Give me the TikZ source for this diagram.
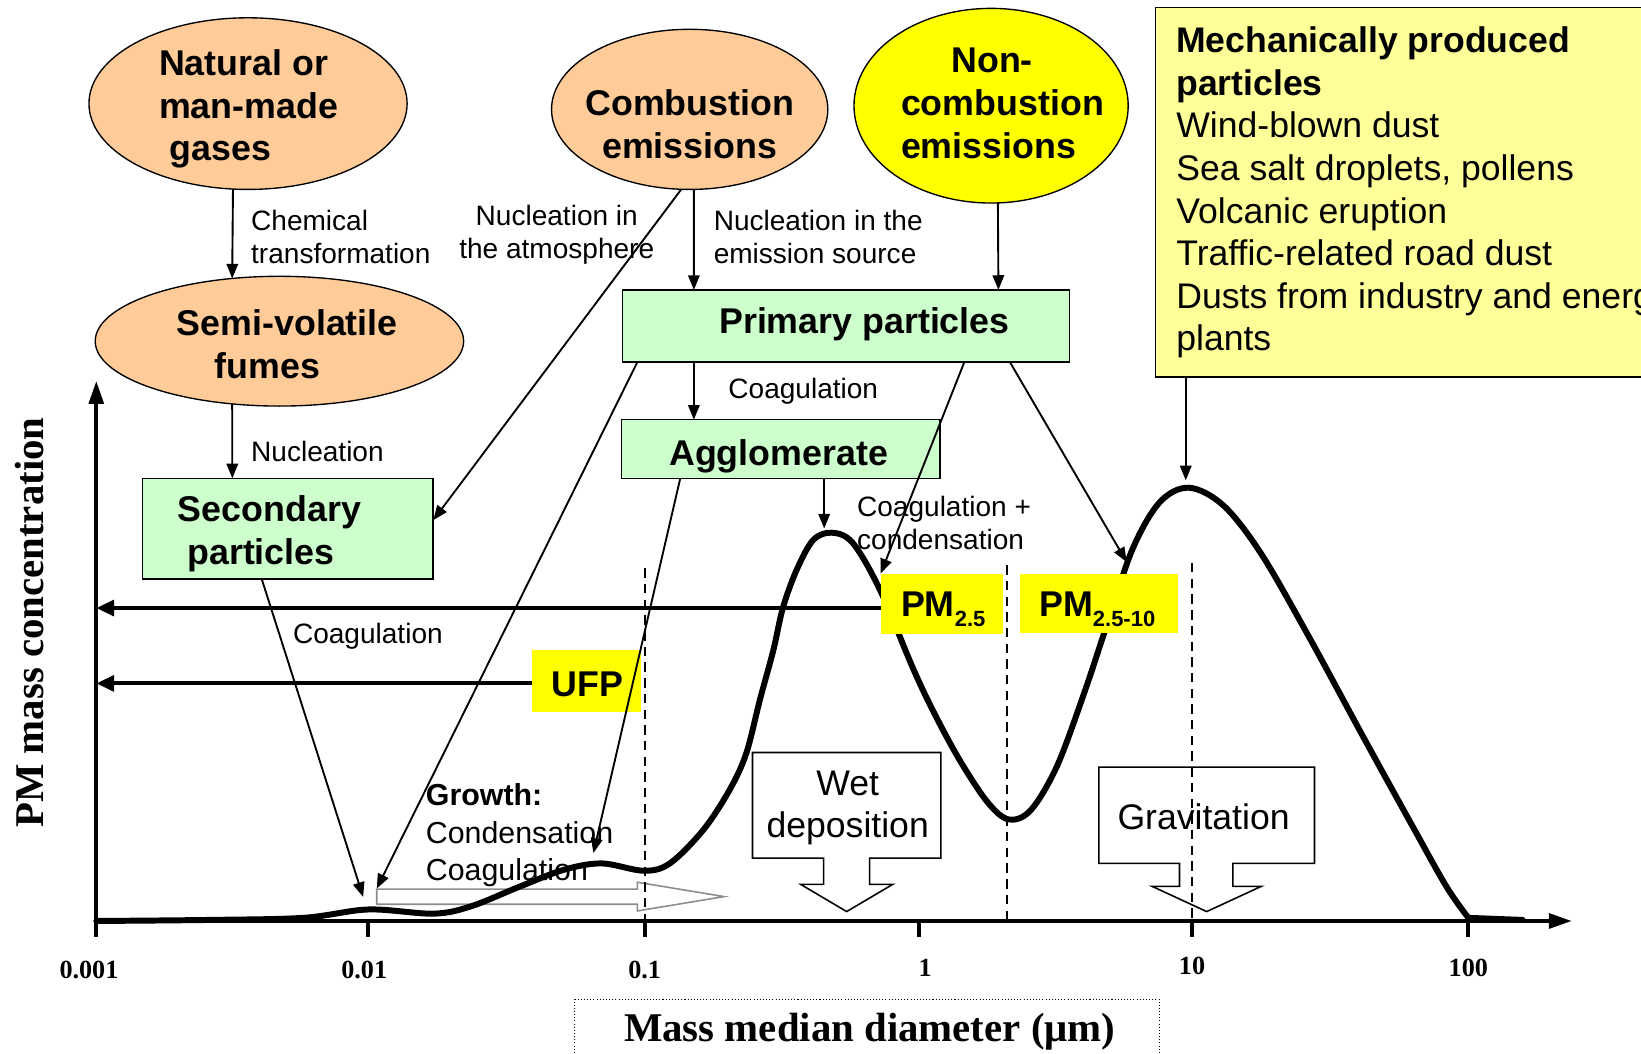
\documentclass[tikz,border=0pt]{standalone}
\usepackage{fontspec}
\setmainfont{Liberation Serif}
\setsansfont{Liberation Sans}
\usetikzlibrary{shapes.geometric,arrows.meta}
\definecolor{peachc}{RGB}{255,204,153}
\definecolor{greenc}{RGB}{204,255,204}
\definecolor{yelc}{RGB}{255,255,0}
\definecolor{lyelc}{RGB}{255,255,153}
\definecolor{grayc}{RGB}{140,140,140}
\newcommand\dgB{\sffamily\bfseries\fontsize{34.2}{41}\selectfont}
\newcommand\dgR{\sffamily\fontsize{34}{40.7}\selectfont}
\newcommand\dgS{\sffamily\fontsize{26.8}{31.5}\selectfont}
\newcommand\dgG{\sffamily\fontsize{29}{35.5}\selectfont}
\newcommand\dgAx{\rmfamily\bfseries\fontsize{39}{44}\selectfont}
\newcommand\dgTk{\rmfamily\bfseries\fontsize{25}{28}\selectfont}
\begin{document}
\begin{tikzpicture}[x=1pt,y=-1pt,
  ell/.style={ellipse, draw, line width=1.3pt, inner sep=0pt, outer sep=0pt},
  gbox/.style={rectangle, draw, line width=1.5pt, fill=greenc, inner sep=0pt, outer sep=0pt},
  ylab/.style={rectangle, fill=yelc, inner sep=0pt, outer sep=0pt, font=\dgB},
  txt/.style={inner sep=0pt, outer sep=0pt},
  conn/.style={line width=1.8pt, -{Triangle[length=14pt,width=11pt]}},
  harrow/.style={line width=3.8pt, -{Triangle[length=17pt,width=15pt]}},
  axisl/.style={line width=3.8pt, -{Triangle[length=22pt,width=14pt]}},
  dline/.style={line width=2pt, dash pattern=on 9pt off 6pt},
  callout/.style={line width=1.5pt, line join=miter},
]
\useasboundingbox (0,0) rectangle (1568,1007);
\clip (0,0) rectangle (1568,1007);

% ---------- ellipses ----------
\node[ell, fill=peachc, minimum width=304pt, minimum height=164pt] (nat) at (237,99) {};
\node[ell, fill=peachc, minimum width=264pt, minimum height=153pt] (comb) at (659,104.5) {};
\node[ell, fill=yelc, minimum width=262pt, minimum height=186pt] (ncomb) at (947,101) {};
\node[ell, fill=peachc, minimum width=352pt, minimum height=124pt] (semi) at (267,326) {};

\node[txt, font=\dgB, align=left, anchor=west] (natt) at (152,104) {Natural or\\man-made\\\hspace*{10pt}gases};
\node[txt, font=\dgB, align=center] (combt) at (659,119) {Combustion\\emissions};
\node[txt, font=\dgB, align=left, anchor=west] (ncombt) at (861,99) {\hspace*{48pt}Non-\\combustion\\emissions};
\node[txt, font=\dgB, align=left, anchor=west] (semit) at (169,329) {Semi-volatile\\\hspace*{36pt}fumes};

% ---------- green boxes ----------
\node[gbox, minimum width=427pt, minimum height=69pt] (prim) at (808.5,311.5) {};
\node[txt, font=\dgB] (primt) at (826,310) {Primary particles};
\node[gbox, minimum width=304pt, minimum height=56pt] (aggl) at (746,429) {};
\node[txt, font=\dgB] (agglt) at (744,436) {Agglomerate};
\node[gbox, minimum width=278pt, minimum height=96pt] (sec) at (275,505) {};
\node[txt, font=\dgB, align=left, anchor=west] (sect) at (170,510) {Secondary\\\hspace*{9pt}particles};

% ---------- mechanically produced box ----------
\node[draw, line width=1.5pt, fill=lyelc, inner sep=0pt, outer sep=0pt, minimum width=520pt, minimum height=353pt, anchor=north west] (mech) at (1104,7) {};
\node[txt, font=\dgR, align=left, anchor=west] (mecht) at (1124,184) {{\bfseries Mechanically produced}\\{\bfseries particles}\\Wind-blown dust\\Sea salt droplets, pollens\\Volcanic eruption\\Traffic-related road dust\\Dusts from industry and energy\\plants};

% ---------- axes ----------
\coordinate (orig) at (92,880);
\coordinate (ytop) at (92,364);
\coordinate (xend) at (1502,880);
\draw[axisl] (92,882) -- (ytop);
\draw[axisl] (90,880) -- (xend);
\foreach \xx in {92,352,616,878,1139,1403} \draw[line width=4pt] (\xx,880) -- (\xx,895);
\node[txt, font=\dgTk] (t1) at (85,927) {0.001};
\node[txt, font=\dgTk] (t2) at (348,927) {0.01};
\node[txt, font=\dgTk] (t3) at (616,927) {0.1};
\node[txt, font=\dgTk] (t4) at (884,925) {1};
\node[txt, font=\dgTk] (t5) at (1139,923) {10};
\node[txt, font=\dgTk] (t6) at (1403,925) {100};
\node[txt, font=\dgAx, rotate=90] (ylabel) at (28,595) {PM mass concentration};
\node[txt, font=\dgAx] (xlabel) at (831,986) {Mass median diameter (μm)};
\draw[line width=1pt, dotted] (549,1012) -- (549,955) -- (1108,955) -- (1108,1012);

% ---------- callouts ----------
\draw[callout] (719,719) -- (899,719) -- (899,820) -- (831,820) -- (831,845) -- (853,845) -- (809,871) -- (765,845) -- (787,845) -- (787,820) -- (719,820) -- cycle;
\node[txt, font=\dgR, align=center] (wett) at (810,772) {Wet\\deposition};
\draw[callout] (1050,733) -- (1256,733) -- (1256,825) -- (1178,825) -- (1178,847) -- (1205,847) -- (1153,871) -- (1101,847) -- (1127,847) -- (1127,825) -- (1050,825) -- cycle;
\node[txt, font=\dgR] (gravt) at (1150,780) {Gravitation};

% ---------- growth arrow ----------
\draw[grayc, line width=1.5pt] (360,849.5) -- (609,849.5) -- (609,843) -- (692,856.7) -- (609,870.4) -- (609,864) -- (360,864) -- cycle;

% ---------- dashed lines ----------
\draw[dline] (616,543) -- (616,880);
\draw[dline] (962,540) -- (962,880);
\draw[dline] (1139,538) -- (1139,880);

% ---------- curve ----------
\draw[line width=5.7pt, line join=round, line cap=round] plot[smooth, tension=0.55] coordinates {
(92,880) (200,879) (290,877) (352,869) (414,873) (450,866) (497,847) (539,831) (575,825) (615,832) (640,825) (672,793) (697,755) (713,720) (726,669) (739,621) (748,581) (761,545) (777,516) (795,509) (815,519) (841,564) (873,640) (894,684) (918,728) (944,767) (964,783) (985,774) (1010,732) (1036,662) (1057,599) (1082,525) (1108,480) (1136,466) (1169,483) (1205,529) (1251,609) (1302,703) (1350,790) (1382,847) (1403,877)} -- (1455,879);

% ---------- yellow labels ----------
\node[ylab, minimum width=104pt, minimum height=59pt] (ufp) at (560,650.5) {};
\node[txt, font=\dgB] (ufpt) at (561,654) {UFP};
\node[ylab, minimum width=117pt, minimum height=58pt] (pm25) at (900,577) {};
\node[txt, font=\dgB, anchor=base west] (pm25t) at (861,589) {PM\raisebox{-10pt}{\fontsize{21}{21}\selectfont 2.5}};
\node[ylab, minimum width=151pt, minimum height=57pt] (pm2510) at (1050,576.5) {};
\node[txt, font=\dgB, anchor=base west] (pm2510t) at (993,589) {PM\raisebox{-10pt}{\fontsize{21}{21}\selectfont 2.5-10}};

% ---------- horizontal arrows ----------
\draw[harrow] ([yshift=-4pt]pm25.west) coordinate (h1) -- (h1 -| orig);
\draw[harrow] ([yshift=-2.5pt]ufp.west) coordinate (h2) -- (h2 -| orig);

% ---------- free-end coordinates ----------
\coordinate (g0) at (347,857);
\coordinate (g1) at (360,849);
\coordinate (bump) at (567,815);
\coordinate (peak1) at (787.5,505);
\coordinate (pk2a) at (1076.5,537);
\coordinate (peak2) at (1133,459);

% ---------- connectors ----------
\draw[conn] (nat.260) -- (semi.127);
\draw[conn] (semi.233) -- ([xshift=-53pt]sec.north);
\draw[conn] (comb.264) -- ([yshift=8pt]sec.east);
\draw[conn] (comb.273) -- ([xshift=-145.5pt]prim.north);
\draw[conn] (ncomb.274) -- ([xshift=145.5pt]prim.north);
\draw[conn] ([xshift=-145.5pt]prim.south) -- ([xshift=-83pt]aggl.north);
\draw[conn] ([xshift=14pt]prim.south west) -- (g1);
\draw[conn] ([xshift=-25pt]sec.south) -- (g0);
\draw[conn] ([xshift=56pt]aggl.south west) -- (bump);
\draw[conn] ([xshift=193.5pt]aggl.south west) -- (peak1);
\draw[conn] ([xshift=-100.6pt]prim.south east) -- (pm25.north west);
\draw[conn] ([xshift=-57pt]prim.south east) -- (pk2a);
\draw[conn] ([xshift=29pt]mech.south west) -- (peak2);

% ---------- connector labels ----------
\node[txt, font=\dgS, align=left, anchor=west] (lchem) at (240,226) {Chemical\\transformation};
\node[txt, font=\dgS, anchor=west] (lnuc) at (240,431) {Nucleation};
\node[txt, font=\dgS, align=center] (latm) at (532,224) {Nucleation in\\the atmosphere};
\node[txt, font=\dgS, align=left, anchor=west] (lems) at (682,226) {Nucleation in the\\emission source};
\node[txt, font=\dgS, anchor=west] (lcoag1) at (696,374) {Coagulation};
\node[txt, font=\dgS, align=left, anchor=west] (lcc) at (819,500) {Coagulation +\\condensation};
\node[txt, font=\dgS, anchor=west] (lcoag2) at (280,608) {Coagulation};
\node[txt, font=\dgG, align=left, anchor=west] (lgrow) at (407,798) {\textbf{Growth:}\\Condensation\\Coagulation};
\end{tikzpicture}
\end{document}
